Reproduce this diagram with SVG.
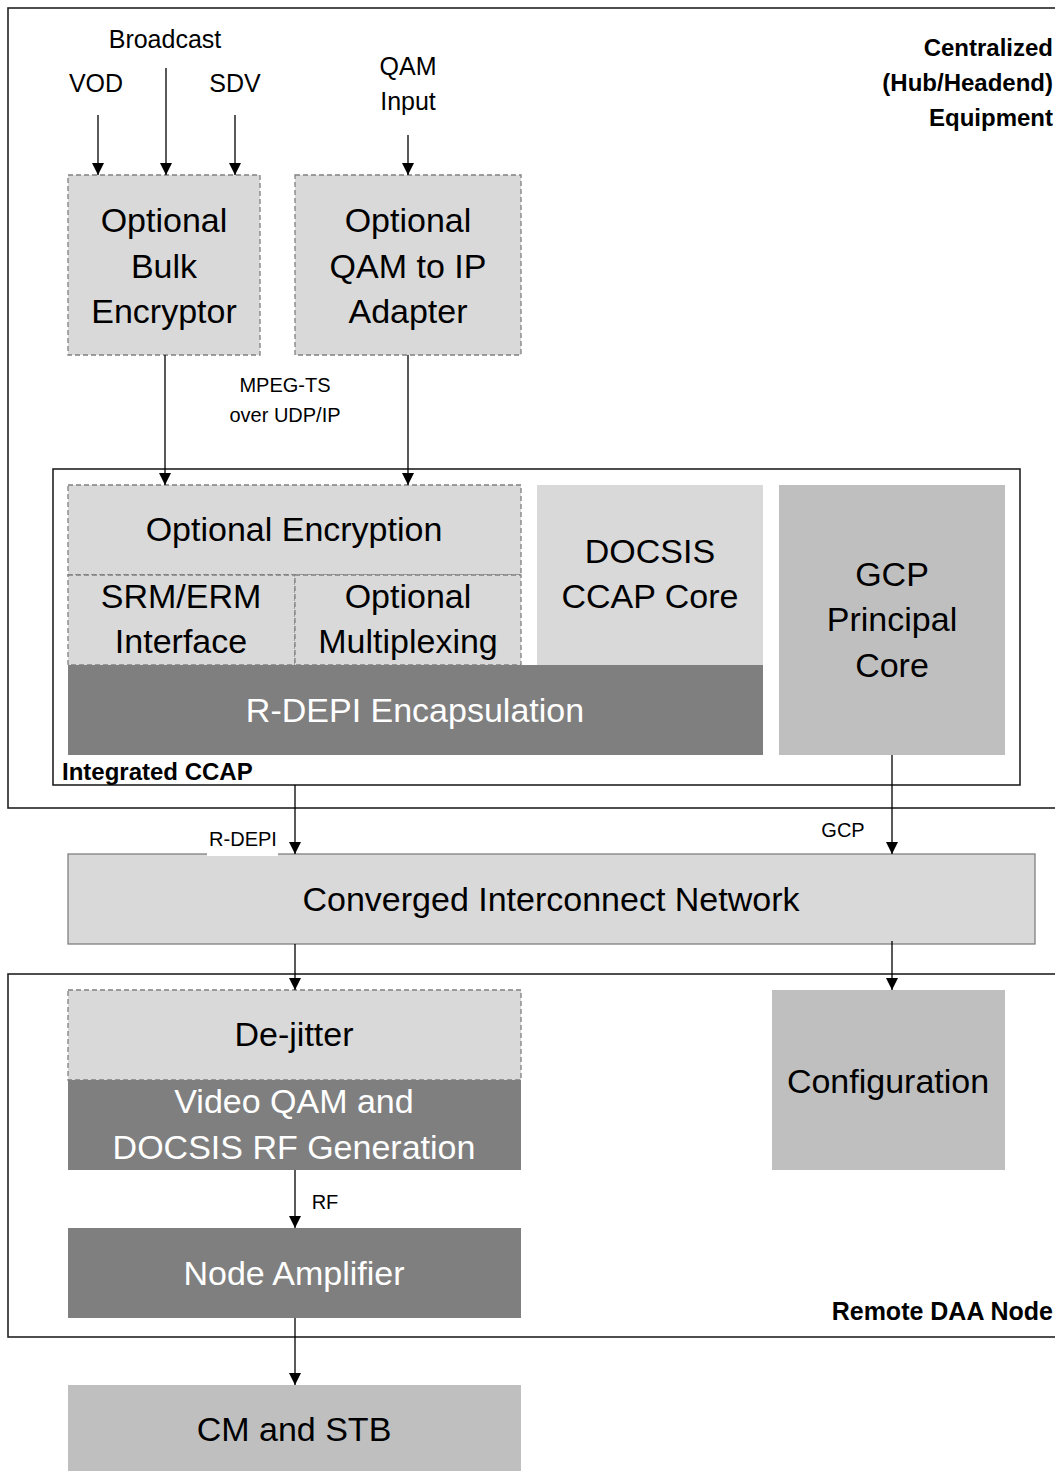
<svg xmlns="http://www.w3.org/2000/svg" width="1055" height="1471" viewBox="0 0 1055 1471">
<style>
text{font-family:"Liberation Sans",Arial,sans-serif;fill:#000;text-anchor:middle}
.big{font-size:34px}
.sm{font-size:25px}
.xs{font-size:20px}
.bold{font-size:24px;font-weight:bold}
.w{fill:#fff}
.frame{fill:none;stroke:#222;stroke-width:1.6}
.dash{stroke:#808080;stroke-width:1.3;stroke-dasharray:5,3}
.l1{fill:#d9d9d9}
.l2{fill:#bfbfbf}
.dk{fill:#7f7f7f}
.conn line{stroke:#000;stroke-width:1.3}
</style>
<defs>
<marker id="ah" markerWidth="12" markerHeight="12" refX="12" refY="6" orient="auto" markerUnits="userSpaceOnUse">
<path d="M0,0 L12,6 L0,12 z" fill="#000"/>
</marker>
</defs>
<rect width="1055" height="1471" fill="#fff"/>

<g id="hub">
<rect class="frame" x="8" y="8" width="1070" height="800"/>
<text class="bold" x="1053" y="56" style="text-anchor:end">Centralized</text>
<text class="bold" x="1053" y="91" style="text-anchor:end">(Hub/Headend)</text>
<text class="bold" x="1053" y="126" style="text-anchor:end">Equipment</text>
</g>

<g id="remote">
<rect class="frame" x="8" y="974" width="1070" height="363"/>
<text class="bold" x="1053" y="1320" style="text-anchor:end;font-size:25px">Remote DAA Node</text>
</g>

<g id="ccap">
<rect class="frame" x="53" y="469" width="967" height="316"/>
<text class="bold" x="62" y="780" style="text-anchor:start">Integrated CCAP</text>
</g>

<g id="inputs">
<text class="sm" x="165" y="48">Broadcast</text>
<text class="sm" x="96" y="92">VOD</text>
<text class="sm" x="235" y="92">SDV</text>
<text class="sm" x="408" y="75">QAM</text>
<text class="sm" x="408" y="110">Input</text>
</g>

<g id="bulk">
<rect class="l1 dash" x="68" y="175" width="192" height="180"/>
<text class="big" x="164" y="232">Optional</text>
<text class="big" x="164" y="278">Bulk</text>
<text class="big" x="164" y="323">Encryptor</text>
</g>

<g id="qam2ip">
<rect class="l1 dash" x="295" y="175" width="226" height="180"/>
<text class="big" x="408" y="232">Optional</text>
<text class="big" x="408" y="278">QAM to IP</text>
<text class="big" x="408" y="323">Adapter</text>
</g>

<g id="mpeg-label">
<text class="xs" x="285" y="392">MPEG-TS</text>
<text class="xs" x="285" y="422">over UDP/IP</text>
</g>

<g id="docsis">
<rect class="l1" x="537" y="485" width="226" height="182"/>
<text class="big" x="650" y="563">DOCSIS</text>
<text class="big" x="650" y="608">CCAP Core</text>
</g>

<g id="rdepi">
<rect class="dk" x="68" y="665" width="695" height="90"/>
<text class="big w" x="415" y="722">R-DEPI Encapsulation</text>
</g>

<g id="optenc">
<rect class="l1 dash" x="68" y="485" width="453" height="90"/>
<text class="big" x="294" y="541">Optional Encryption</text>
</g>

<g id="srm">
<rect class="l1 dash" x="68" y="575" width="227" height="90"/>
<text class="big" x="181" y="608">SRM/ERM</text>
<text class="big" x="181" y="653">Interface</text>
</g>

<g id="mux">
<rect class="l1 dash" x="295" y="575" width="226" height="90"/>
<text class="big" x="408" y="608">Optional</text>
<text class="big" x="408" y="653">Multiplexing</text>
</g>

<g id="gcp">
<rect class="l2" x="779" y="485" width="226" height="270"/>
<text class="big" x="892" y="586">GCP</text>
<text class="big" x="892" y="631">Principal</text>
<text class="big" x="892" y="677">Core</text>
</g>

<g id="cin">
<rect class="l1" x="68" y="854" width="967" height="90" stroke="#808080" stroke-width="1.3"/>
<text class="big" x="551" y="911">Converged Interconnect Network</text>
</g>

<g id="dejitter">
<rect class="l1 dash" x="68" y="990" width="453" height="90"/>
<text class="big" x="294" y="1046">De-jitter</text>
</g>

<g id="videoqam">
<rect class="dk" x="68" y="1080" width="453" height="90"/>
<text class="big w" x="294" y="1113">Video QAM and</text>
<text class="big w" x="294" y="1159">DOCSIS RF Generation</text>
</g>

<g id="config">
<rect class="l2" x="772" y="990" width="233" height="180"/>
<text class="big" x="888" y="1093">Configuration</text>
</g>

<g id="amp">
<rect class="dk" x="68" y="1228" width="453" height="90"/>
<text class="big w" x="294" y="1285">Node Amplifier</text>
</g>

<g id="cmstb">
<rect class="l2" x="68" y="1385" width="453" height="90"/>
<text class="big" x="294" y="1441">CM and STB</text>
</g>

<g class="conn" id="connectors">
<line x1="98" y1="115" x2="98" y2="175" marker-end="url(#ah)"/>
<line x1="166" y1="68" x2="166" y2="175" marker-end="url(#ah)"/>
<line x1="235" y1="115" x2="235" y2="175" marker-end="url(#ah)"/>
<line x1="408" y1="135" x2="408" y2="175" marker-end="url(#ah)"/>
<line x1="165" y1="355" x2="165" y2="485" marker-end="url(#ah)"/>
<line x1="408" y1="355" x2="408" y2="485" marker-end="url(#ah)"/>
<line x1="295" y1="785" x2="295" y2="854" marker-end="url(#ah)"/>
<line x1="892" y1="755" x2="892" y2="854" marker-end="url(#ah)"/>
<line x1="295" y1="944" x2="295" y2="990" marker-end="url(#ah)"/>
<line x1="892" y1="941" x2="892" y2="990" marker-end="url(#ah)"/>
<line x1="295" y1="1170" x2="295" y2="1228" marker-end="url(#ah)"/>
<line x1="295" y1="1318" x2="295" y2="1385" marker-end="url(#ah)"/>
<rect x="207" y="826" width="71" height="30" fill="#fff"/>
<text class="xs" x="243" y="846">R-DEPI</text>
<text class="xs" x="843" y="837">GCP</text>
<text class="xs" x="325" y="1209">RF</text>
</g>
</svg>
